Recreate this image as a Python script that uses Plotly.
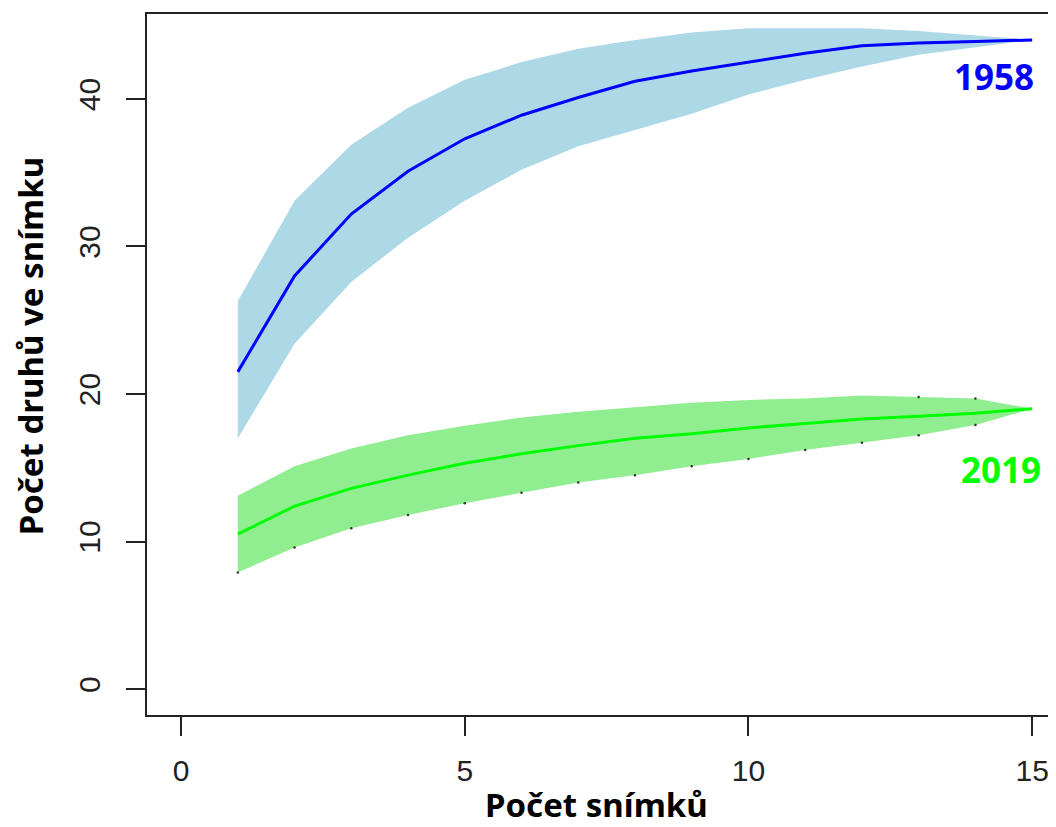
import plotly.graph_objects as go

# Number of plots (x)
snimky = list(range(1, 16))

# 1958 species accumulation: mean, lower and upper bounds
rich_1958 = [21.5, 28.0, 32.2, 35.1, 37.3, 38.9, 40.1, 41.2, 41.9, 42.5, 43.1, 43.6, 43.8, 43.9, 44.0]
low_1958 = [17.0, 23.4, 27.6, 30.6, 33.1, 35.2, 36.8, 37.9, 39.0, 40.3, 41.3, 42.2, 43.0, 43.5, 44.0]
up_1958 = [26.3, 33.1, 36.9, 39.4, 41.3, 42.5, 43.4, 44.0, 44.5, 44.8, 44.8, 44.8, 44.6, 44.3, 44.0]

# 2019 species accumulation: mean, lower and upper bounds
rich_2019 = [10.5, 12.4, 13.6, 14.5, 15.3, 15.95, 16.5, 17.0, 17.3, 17.7, 18.0, 18.3, 18.5, 18.7, 19.0]
low_2019 = [7.9, 9.6, 10.9, 11.8, 12.6, 13.3, 14.0, 14.5, 15.1, 15.6, 16.2, 16.7, 17.2, 17.9, 19.0]
up_2019 = [13.1, 15.1, 16.3, 17.2, 17.85, 18.4, 18.8, 19.1, 19.4, 19.6, 19.7, 19.9, 19.8, 19.7, 19.0]

x_ticks = [0, 5, 10, 15]
y_ticks = [0, 10, 20, 30, 40]

fig = go.Figure()

def band(x, lo, hi, color):
    fig.add_trace(go.Scatter(
        x=x + x[::-1], y=hi + lo[::-1], fill="toself", fillcolor=color,
        line=dict(width=0, color=color), mode="lines", hoverinfo="skip", showlegend=False))

band(snimky, low_1958, up_1958, "#ADD8E6")
fig.add_trace(go.Scatter(x=snimky, y=rich_1958, mode="lines",
                         line=dict(color="#0000FF", width=3), showlegend=False))
band(snimky, low_2019, up_2019, "#90EE90")
fig.add_trace(go.Scatter(x=snimky, y=rich_2019, mode="lines",
                         line=dict(color="#00FF00", width=3), showlegend=False))
# small dots on the 2019 confidence limits
fig.add_trace(go.Scatter(x=snimky[:-1], y=low_2019[:-1], mode="markers",
                         marker=dict(color="#333333", size=2.5), showlegend=False))
fig.add_trace(go.Scatter(x=snimky[12:14], y=up_2019[12:14], mode="markers",
                         marker=dict(color="#333333", size=2.5), showlegend=False))

fig.add_annotation(x=14.33, y=41.5, text="<b>1958</b>", showarrow=False,
                   font=dict(family="Noto Sans", size=35, color="#0000FF"))
fig.add_annotation(x=14.45, y=14.9, text="<b>2019</b>", showarrow=False,
                   font=dict(family="Noto Sans", size=35, color="#00FF00"))

tick_font = dict(family="Liberation Sans", size=30, color="#222222")
title_font = dict(family="Noto Sans", size=33, color="#000000")

# axis titles placed as annotations
fig.add_annotation(xref="paper", yref="paper", x=-0.1287, y=0.526,
                   xanchor="center", yanchor="middle", textangle=-90,
                   text="<b>Počet druhů ve snímku</b>", showarrow=False, font=title_font)
fig.add_annotation(xref="paper", yref="paper", x=0.495, y=-0.127,
                   xanchor="center", yanchor="middle",
                   text="<b>Počet snímků</b>", showarrow=False, font=title_font)

fig.update_layout(
    width=1048, height=819,
    margin=dict(l=139, r=0, t=6, b=112),
    paper_bgcolor="white", plot_bgcolor="white",
    xaxis=dict(range=[-0.6, 15.42], tickvals=x_ticks, ticks="outside", ticklen=19,
               tickwidth=1.5, tickcolor="#222222", showline=True, mirror=True,
               linecolor="#222222", linewidth=2, showgrid=False, zeroline=False,
               tickfont=tick_font, ticklabelstandoff=9),
    yaxis=dict(range=[-1.76, 45.76], tickvals=y_ticks, ticks="outside", ticklen=19,
               tickwidth=1.5, tickcolor="#222222", showline=True, mirror=False,
               linecolor="#222222", linewidth=2, showgrid=False, zeroline=False,
               tickfont=tick_font, tickangle=-90, ticklabelstandoff=14),
)

fig.write_html("out.html")
